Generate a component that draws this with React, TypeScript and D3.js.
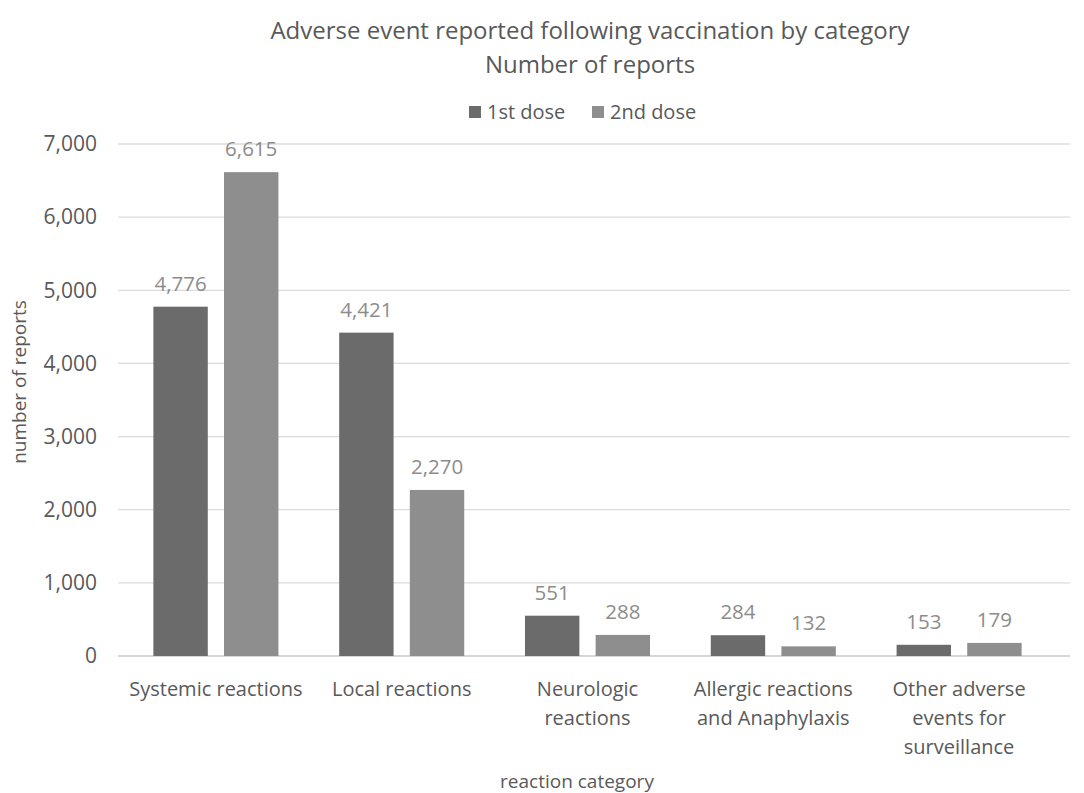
import React, { useEffect, useRef } from "react";
import * as d3 from "d3";

const categories = [
  "Systemic reactions",
  "Local reactions",
  "Neurologic reactions",
  "Allergic reactions and Anaphylaxis",
  "Other adverse events for surveillance",
];
const categoryLines = [
  ["Systemic reactions"],
  ["Local reactions"],
  ["Neurologic", "reactions"],
  ["Allergic reactions", "and Anaphylaxis"],
  ["Other adverse", "events for", "surveillance"],
];
const seriesNames = ["1st dose", "2nd dose"];
const firstDose = [4776, 4421, 551, 284, 153];
const secondDose = [6615, 2270, 288, 132, 179];
const yTicks = [0, 1000, 2000, 3000, 4000, 5000, 6000, 7000];

const App = () => {
  const ref = useRef<SVGSVGElement>(null);

  useEffect(() => {
    const width = 1084,
      height = 793;
    const margin = { top: 144, right: 14, bottom: 137, left: 118 };
    const font = "'Open Sans', 'Noto Sans', sans-serif";
    const textColor = "#595959";
    const colors = ["#6b6b6b", "#8e8e8e"];

    const svg = d3.select(ref.current);
    svg.selectAll("*").remove();
    svg.attr("width", width).attr("height", height).style("font-family", font);

    const x0 = d3
      .scaleBand()
      .domain(categories)
      .range([123, 1052])
      .paddingInner(0)
      .paddingOuter(0);

    const x1 = d3
      .scaleBand()
      .domain(seriesNames)
      .range([0, x0.bandwidth()])
      .paddingInner(0.23)
      .paddingOuter(0.43);

    const y = d3
      .scaleLinear()
      .domain([0, 7000])
      .range([height - margin.bottom, margin.top]);

    // gridlines
    svg
      .append("g")
      .selectAll("line")
      .data(yTicks)
      .join("line")
      .attr("x1", margin.left)
      .attr("x2", width - margin.right)
      .attr("y1", (d) => y(d))
      .attr("y2", (d) => y(d))
      .attr("stroke", (d) => (d === 0 ? "#c8c8c8" : "#dcdcdc"))
      .attr("stroke-width", 1.3);

    // y tick labels
    svg
      .append("g")
      .selectAll("text")
      .data(yTicks)
      .join("text")
      .attr("x", 97)
      .attr("y", (d) => y(d))
      .attr("dy", "0.35em")
      .attr("text-anchor", "end")
      .attr("font-size", 21)
      .attr("fill", textColor)
      .text((d) => d3.format(",")(d));

    const rows = categories.map((c, i) => ({
      cat: c,
      values: [firstDose[i], secondDose[i]],
    }));

    const groups = svg
      .append("g")
      .selectAll("g")
      .data(rows)
      .join("g")
      .attr("transform", (d) => `translate(${x0(d.cat)},0)`);

    const bars = groups
      .selectAll("g")
      .data((d) => d.values.map((v, k) => ({ key: seriesNames[k], value: v, k })))
      .join("g");

    bars
      .append("rect")
      .attr("x", (d) => x1(d.key)!)
      .attr("y", (d) => y(d.value))
      .attr("width", x1.bandwidth())
      .attr("height", (d) => y(0) - y(d.value))
      .attr("fill", (d) => colors[d.k]);

    bars
      .append("text")
      .attr("x", (d) => x1(d.key)! + x1.bandwidth() / 2)
      .attr("y", (d) => y(d.value) - 16)
      .attr("text-anchor", "middle")
      .attr("font-size", 20.5)
      .attr("fill", "#8c8c8c")
      .text((d) => d3.format(",")(d.value));

    // category labels
    groups
      .append("text")
      .attr("text-anchor", "middle")
      .attr("font-size", 20)
      .attr("fill", textColor)
      .selectAll("tspan")
      .data((d, i) => categoryLines[i])
      .join("tspan")
      .attr("x", x0.bandwidth() / 2)
      .attr("y", (d, j) => 696 + j * 29)
      .text((d) => d);

    // titles
    svg
      .append("text")
      .attr("x", 590)
      .attr("y", 39)
      .attr("text-anchor", "middle")
      .attr("font-size", 24)
      .attr("fill", textColor)
      .text("Adverse event reported following vaccination by category");
    svg
      .append("text")
      .attr("x", 590)
      .attr("y", 73)
      .attr("text-anchor", "middle")
      .attr("font-size", 24)
      .attr("fill", textColor)
      .text("Number of reports");

    // legend
    const legend = svg
      .append("g")
      .selectAll("g")
      .data(seriesNames)
      .join("g")
      .attr("transform", (d, i) => `translate(${469 + i * 123},0)`);
    legend
      .append("rect")
      .attr("x", 0)
      .attr("y", 106)
      .attr("width", 12)
      .attr("height", 12)
      .attr("fill", (d, i) => colors[i]);
    legend
      .append("text")
      .attr("x", 18)
      .attr("y", 119)
      .attr("font-size", 20)
      .attr("fill", textColor)
      .text((d) => d);

    // axis titles
    svg
      .append("text")
      .attr("transform", `translate(26,${382}) rotate(-90)`)
      .attr("text-anchor", "middle")
      .attr("font-size", 19)
      .attr("fill", textColor)
      .text("number of reports");
    svg
      .append("text")
      .attr("x", 577)
      .attr("y", 788)
      .attr("text-anchor", "middle")
      .attr("font-size", 19)
      .attr("fill", textColor)
      .text("reaction category");
  }, []);

  return <svg ref={ref} style={{ position: "absolute", left: 0, top: 0 }}></svg>;
};

export default App;
